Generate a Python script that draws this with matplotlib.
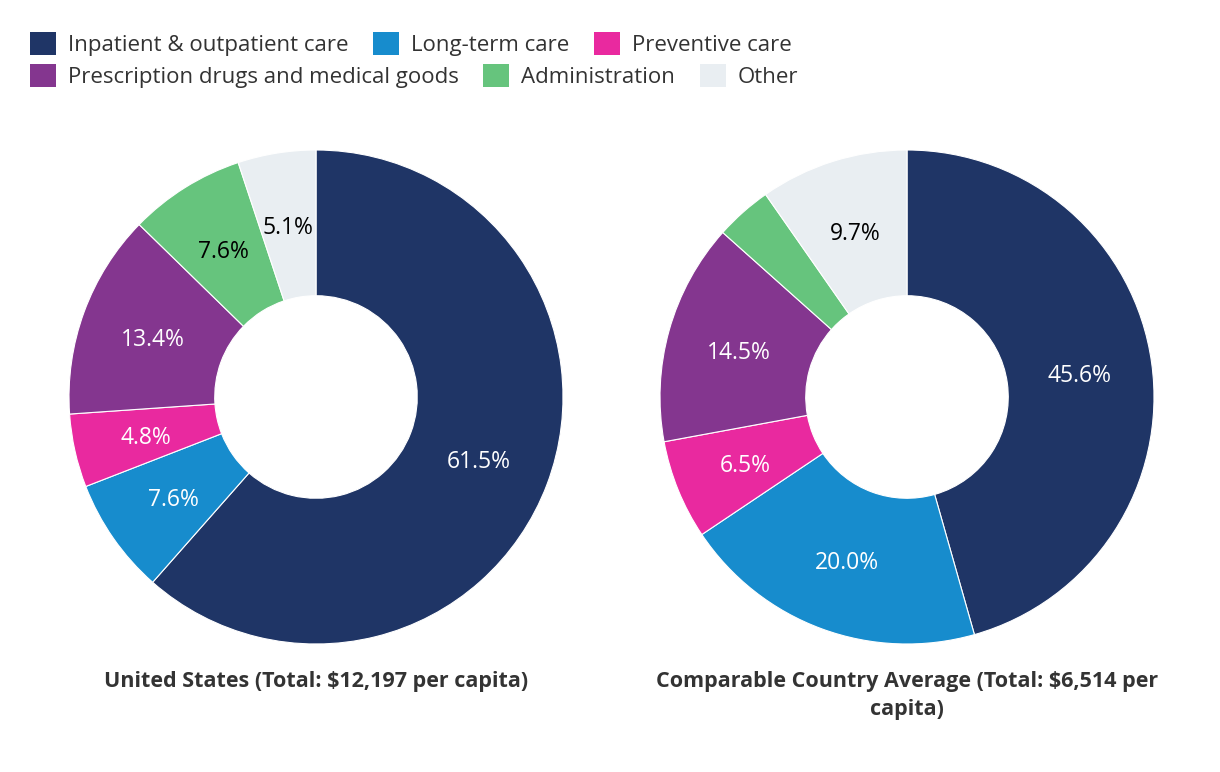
import numpy as np
import matplotlib.pyplot as plt
from matplotlib.patches import Patch

plt.rcParams['font.family'] = ['Open Sans', 'DejaVu Sans']

# categories and shares (%), going clockwise from 12 o'clock
categories = ['Inpatient & outpatient care', 'Long-term care', 'Preventive care',
              'Prescription drugs and medical goods', 'Administration', 'Other']
colors = ['#1f3566', '#178ccd', '#e9299f', '#84368f', '#66c47d', '#e9eef2']
text_colors = ['white', 'white', 'white', 'white', 'black', 'black']

us_values = [61.5, 7.6, 4.8, 13.4, 7.6, 5.1]
comp_values = [45.6, 20.0, 6.5, 14.5, 3.7, 9.7]

us_title = 'United States (Total: $12,197 per capita)'
comp_title = 'Comparable Country Average (Total: $6,514 per\ncapita)'

W, H = 1220, 772
fig = plt.figure(figsize=(W / 100, H / 100), dpi=100)

R = 247  # pie radius in pixels


def donut(cx, cy, right_px, values, title):
    # axes in pixel units, 1 data unit = R pixels
    left = cx - R
    ax = fig.add_axes([left / W, (H - cy - R) / H, (right_px - left) / W, 2 * R / H])
    wedges, _ = ax.pie(values, colors=colors, startangle=90, counterclock=False,
                       radius=1, wedgeprops=dict(width=0.59, edgecolor='white', linewidth=0.8))
    for w, v, tc in zip(wedges, values, text_colors):
        if v < 4:
            continue  # too small for a label
        ang = np.deg2rad((w.theta1 + w.theta2) / 2)
        r = 0.705
        ax.text(r * np.cos(ang), r * np.sin(ang), f'{v:.1f}%', ha='center',
                va='center_baseline', color=tc, fontsize=16.5)
    ax.set_xlim(-1, (right_px - cx) / R)
    ax.set_ylim(-1, 1)
    ax.set_aspect('equal')
    ax.axis('off')
    fig.text(cx / W, 1 - 671 / H, title, ha='center', va='top', fontsize=15.5,
             fontweight='bold', color='#333333', linespacing=1.45)


donut(316, 397, 562, us_values, us_title)
donut(907, 397, 1152, comp_values, comp_title)

# legend, two rows with flowing layout
handles = [Patch(facecolor=c, edgecolor='none') for c in colors]
for row, y in [(0, 44), (1, 76)]:
    hs = handles[row * 3:row * 3 + 3]
    ls = categories[row * 3:row * 3 + 3]
    fig.legend(hs, ls, loc='center left', bbox_to_anchor=(30 / W, 1 - y / H), ncol=3,
               frameon=False, fontsize=16, handlelength=1.17, handleheight=1.17,
               handletextpad=0.54, columnspacing=1.1, borderaxespad=0, borderpad=0,
               labelcolor='#333333')

fig.savefig('out.png', dpi=100, facecolor='white')
